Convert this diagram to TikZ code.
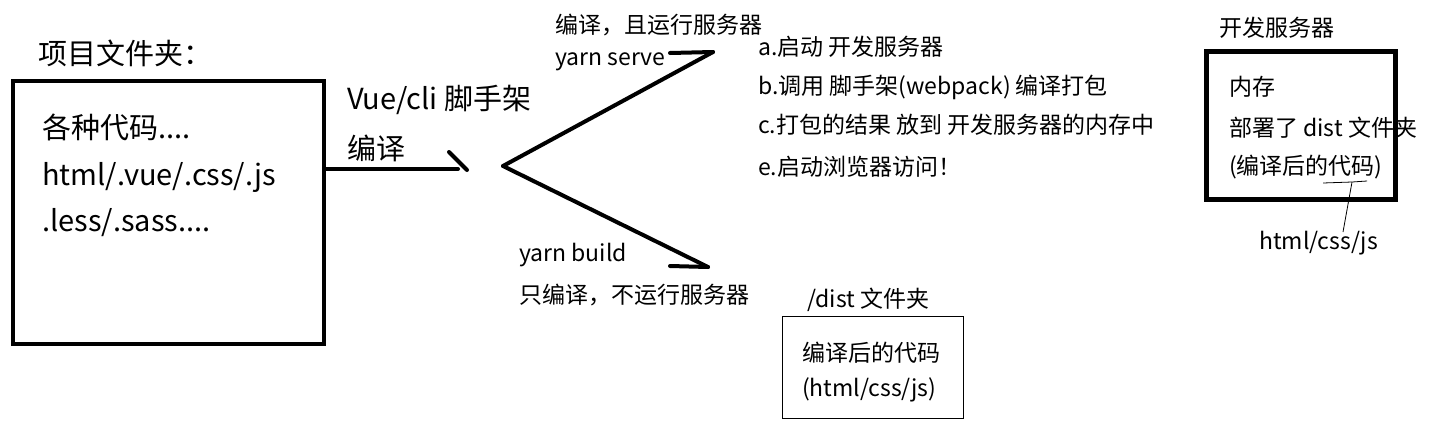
\documentclass[tikz,border=0pt]{standalone}
\usepackage{fontspec}
\setmainfont{Noto Sans CJK SC}

\begin{document}
\begin{tikzpicture}[x=1pt,y=-1pt]
        \tikzstyle{every node}+=[inner sep=0pt]
        \tikzstyle{big}=[anchor=west,font=\fontsize{29}{31}\selectfont]
        \tikzstyle{small}=[anchor=west,font=\fontsize{23}{25}\selectfont]
        \tikzstyle{pen}=[line width=4pt,line cap=round]
        \useasboundingbox (0,0) rectangle (1431,434);
        % project folder
        \node [big] (projlabel) at (38,53) {项目文件夹：};
        \node [draw,line width=4pt,minimum width=311,minimum height=263] (proj) at (168.5,212.5) {};
        \node [big] (code1) at (42,127) {各种代码....};
        \node [big] (code2) at (42,177) {html/.vue/.css/.js};
        \node [big] (code3) at (42,223) {.less/.sass....};
        % vue cli
        \node [big] (cli) at (347,100) {Vue/cli 脚手架};
        \node [big] (compile) at (347,148) {编译};
        \coordinate (head) at (467,170);
        \coordinate (fork) at (503,166);
        \coordinate (serve) at (713,52);
        \coordinate (build) at (708,267);
        \draw [pen] (proj.east |- 0,169) -- (458,169);
        \draw [pen] (449,152) -- (head);
        \draw [pen] (fork) -- (serve);
        \draw [pen] (670,53) -- (serve);
        \draw [pen] (fork) -- (build);
        \draw [pen] (670,266) -- (build);
        % yarn serve
        \node [small] (servetitle) at (555,25) {编译，且运行服务器};
        \node [small] (servecmd) at (555,62) {yarn serve};
        \node [small] (stepa) at (758,47) {a.启动 开发服务器};
        \node [small] (stepb) at (758,87) {b.调用 脚手架(webpack) 编译打包};
        \node [small] (stepc) at (758,125) {c.打包的结果 放到 开发服务器的内存中};
        \node [small] (stepe) at (758,167) {e.启动浏览器访问！};
        % yarn build
        \node [small] (buildcmd) at (519,255) {yarn build};
        \node [small] (buildtitle) at (519,295) {只编译，不运行服务器};
        \node [small] (distlabel) at (807,300) {/dist 文件夹};
        \node [draw,line width=1pt,minimum width=181,minimum height=102] (dist) at (872.5,367) {};
        \node [small] (dist1) at (802,353) {编译后的代码};
        \node [small] (dist2) at (802,390) {(html/css/js)};
        % dev server
        \node [small] (devlabel) at (1219,28) {开发服务器};
        \node [draw,line width=5pt,minimum width=189,minimum height=148] (dev) at (1300.5,125) {};
        \node [small] (mem1) at (1229,87) {内存};
        \node [small] (mem2) at (1229,128) {部署了 dist 文件夹};
        \node [small] (mem3) at (1229,167) {(编译后的代码)};
        \node [small] (hcj) at (1259,243) {html/css/js};
        \coordinate (brace) at (1352,182);
        \coordinate (bracefoot) at (1343,232);
        \draw [line width=0.8pt] (1323,183) -- (brace) -- (1367,181);
        \draw [line width=0.8pt] (brace) -- (bracefoot);
\end{tikzpicture}
\end{document}
